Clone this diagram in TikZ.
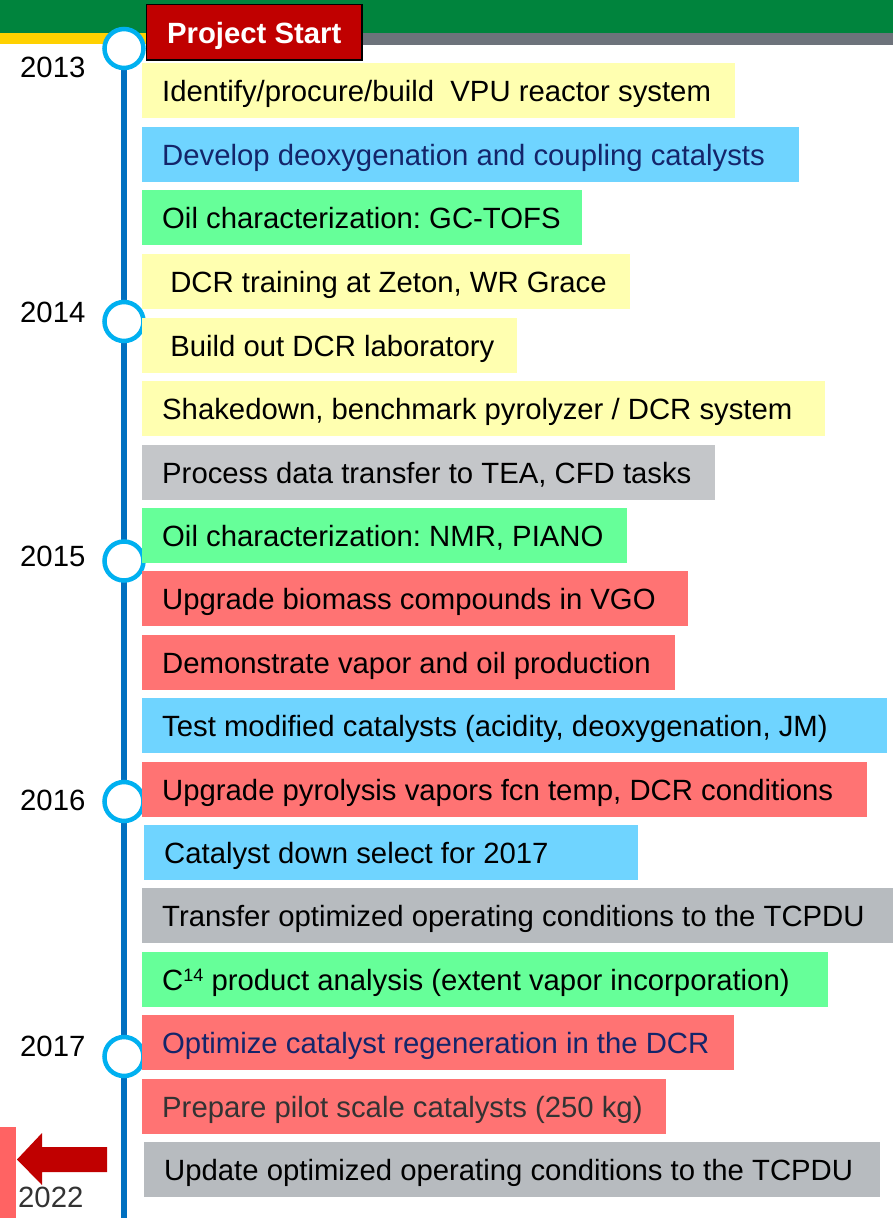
\documentclass[tikz,border=0pt]{standalone}
\usepackage{fontspec}
\setmainfont{Liberation Sans}
\frenchspacing

\definecolor{bandgreen}{HTML}{00843D}
\definecolor{bandgray}{HTML}{6D737B}
\definecolor{bandyellow}{HTML}{FFD100}
\definecolor{startred}{HTML}{C00000}
\definecolor{lineblue}{HTML}{0070C0}
\definecolor{ringblue}{HTML}{00B0F0}
\definecolor{taskyellow}{HTML}{FFFFB0}
\definecolor{taskblue}{HTML}{6FD4FF}
\definecolor{taskgreen}{HTML}{66FF99}
\definecolor{taskred}{HTML}{FF7373}
\definecolor{taskgray}{HTML}{B7BBBF}
\definecolor{taskgraylight}{HTML}{C4C6C9}
\definecolor{navytext}{HTML}{14256A}
\definecolor{darktext}{HTML}{333333}
\definecolor{barred}{HTML}{FF6363}

\newcommand{\tasksize}{\fontsize{29.3}{34}\selectfont}

\tikzset{
  task/.style={anchor=north west, minimum height=55pt, inner xsep=20pt,
    inner ysep=0pt, align=flush left, font=\tasksize, text height=25pt, text depth=3pt},
  yellowtask/.style={task, fill=taskyellow},
  bluetask/.style={task, fill=taskblue},
  greentask/.style={task, fill=taskgreen},
  redtask/.style={task, fill=taskred},
  graytask/.style={task, fill=taskgray},
  lightgraytask/.style={task, fill=taskgraylight},
  yearlabel/.style={anchor=west, inner sep=0pt, font=\fontsize{29.3}{34}\selectfont},
  milestone/.style={circle, minimum size=39pt, inner sep=0pt, line width=4.5pt,
    draw=ringblue, fill=white},
  timeline/.style={draw=lineblue, line width=6.5pt},
}

\begin{document}
\begin{tikzpicture}[x=1pt, y=-1pt]
\useasboundingbox (0,0) rectangle (893,1218);

% header bands
\fill[bandgreen] (0,0) rectangle (893,33);
\fill[bandyellow] (0,33) rectangle (250,44);
\fill[bandgray] (250,33) rectangle (893,45);

% time axis
\coordinate (linetop) at (124,48.5);
\coordinate (lineend) at (124,1218);
\draw[timeline] (linetop) -- (lineend);

\node[milestone] (m2013) at (124,48.5) {};
\node[milestone] (m2014) at (124,321.5) {};
\node[milestone] (m2015) at (124,561) {};
\node[milestone] (m2016) at (124,801.5) {};
\node[milestone] (m2017) at (124,1056.5) {};

\node[yearlabel] (y2013) at (20,67) {2013};
\node[yearlabel] (y2014) at (20,312.5) {2014};
\node[yearlabel] (y2015) at (20,556) {2015};
\node[yearlabel] (y2016) at (20,800.5) {2016};
\node[yearlabel] (y2017) at (20,1046.5) {2017};

% start banner
\node[anchor=north west, minimum width=215.5pt, minimum height=55.5pt, inner sep=0pt,
  fill=startred, draw=black, line width=1.5pt, text=white, text height=25pt, text depth=3pt,
  font=\fontsize{29.3}{34}\selectfont\bfseries] (start) at (145.75,3.75) {Project Start};

% tasks
\node[yellowtask, text width=553pt] (t1) at (142,63) {\mbox{Identify/procure/build\ \ VPU reactor system}};
\node[bluetask, text width=617pt, text=navytext] (t2) at (142,127) {\mbox{Develop deoxygenation and coupling catalysts}};
\node[greentask, text width=400pt] (t3) at (142,190) {\mbox{Oil characterization: GC-TOFS}};
\node[yellowtask, text width=448pt] (t4) at (142,254) {\mbox{\ DCR training at Zeton, WR Grace}};
\node[yellowtask, text width=335pt] (t5) at (142,318) {\mbox{\ Build out DCR laboratory}};
\node[yellowtask, text width=643pt] (t6) at (142,381) {\mbox{Shakedown, benchmark pyrolyzer / DCR system}};
\node[lightgraytask, text width=533pt] (t7) at (142,445) {\mbox{Process data transfer to TEA, CFD tasks}};
\node[greentask, text width=445pt] (t8) at (142,508) {\mbox{Oil characterization: NMR, PIANO}};
\node[redtask, text width=506pt] (t9) at (142,571) {\mbox{Upgrade biomass compounds in VGO}};
\node[redtask, text width=493pt] (t10) at (142,635) {\mbox{Demonstrate vapor and oil production}};
\node[bluetask, text width=705pt] (t11) at (142,698) {\mbox{Test modified catalysts (acidity, deoxygenation, JM)}};
\node[redtask, text width=685pt] (t12) at (142,762) {\mbox{Upgrade pyrolysis vapors fcn temp, DCR conditions}};
\node[bluetask, text width=454pt] (t13) at (144,825) {\mbox{Catalyst down select for 2017}};
\node[graytask, text width=711pt] (t14) at (142,888) {\mbox{Transfer optimized operating conditions to the TCPDU}};
\node[greentask, text width=646pt] (t15) at (142,952) {\mbox{C{\fontsize{18}{20}\selectfont\raisebox{9pt}{14}} product analysis (extent vapor incorporation)}};
\node[redtask, text width=552pt, text=navytext] (t16) at (142,1015) {\mbox{Optimize catalyst regeneration in the DCR}};
\node[redtask, text width=484pt, text=darktext] (t17) at (142,1079) {\mbox{Prepare pilot scale catalysts (250 kg)}};
\node[graytask, text width=696pt] (t18) at (144,1142) {\mbox{Update optimized operating conditions to the TCPDU}};

% continuation marker
\fill[barred] (0,1127) rectangle (16,1218);
\fill[startred] (107,1147) -- (42,1147) -- (42,1133) -- (17,1159.5)
  -- (42,1185) -- (42,1172) -- (107,1172) -- cycle;
\node[yearlabel, text=darktext] (y2022) at (18,1197.5) {2022};
\end{tikzpicture}
\end{document}
